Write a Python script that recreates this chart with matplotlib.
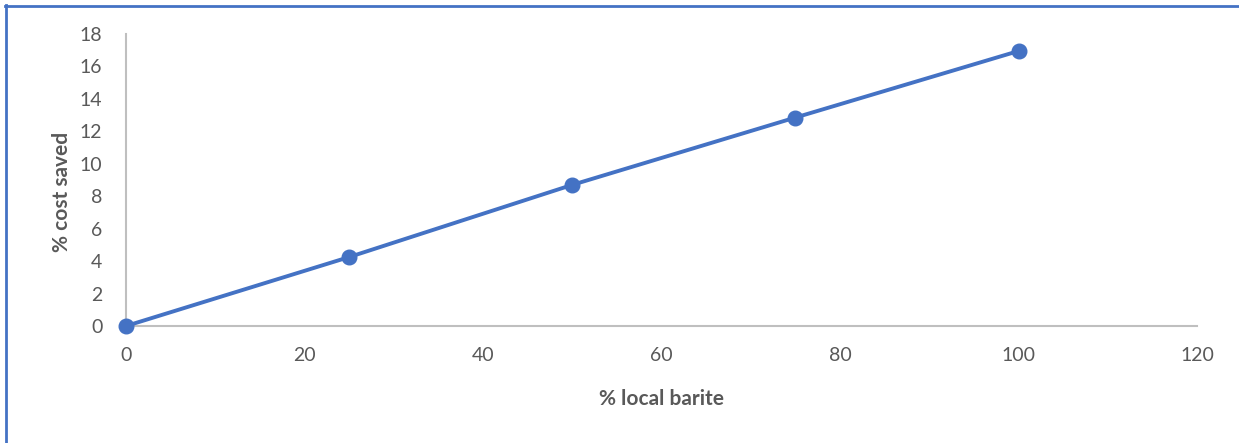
import matplotlib
matplotlib.use("Agg")
import matplotlib.pyplot as plt
from matplotlib.lines import Line2D

# Share of local barite in the mix vs. resulting cost saving
local_barite = [0, 25, 50, 75, 100]
cost_saved = [0, 4.25, 8.7, 12.85, 16.95]
x_ticks = [0, 20, 40, 60, 80, 100, 120]
y_ticks = [0, 2, 4, 6, 8, 10, 12, 14, 16, 18]

plt.rcParams['font.family'] = ['Lato', 'DejaVu Sans']

W, H = 1239, 443
fig = plt.figure(figsize=(W / 100, H / 100), dpi=100)
ax = fig.add_axes([126 / W, 1 - 326 / H, (1197 - 126) / W, (326 - 34) / H])

blue = '#4472C4'
ax.plot(local_barite, cost_saved, color=blue, linewidth=2.8, marker='o',
        markersize=10.5, markerfacecolor=blue, markeredgecolor=blue,
        clip_on=False, zorder=5)

ax.set_xlim(0, 120)
ax.set_ylim(0, 18)
ax.set_xticks(x_ticks)
ax.set_yticks(y_ticks)

for side in ('top', 'right'):
    ax.spines[side].set_visible(False)
for side in ('left', 'bottom'):
    ax.spines[side].set_color('#BFBFBF')
    ax.spines[side].set_linewidth(1.5)

ax.tick_params(axis='both', length=0, labelsize=14, colors='#595959')
ax.tick_params(axis='x', pad=15)
ax.tick_params(axis='y', pad=17)

ax.set_xlabel('% local barite', fontsize=15, fontweight='bold',
              color='#595959', labelpad=18)
ax.set_ylabel('% cost saved', fontsize=15, fontweight='bold',
              color='#595959', va='center')
ax.yaxis.set_label_coords(-0.06, 0.46)

# Chart frame: left and top edges
fig.add_artist(Line2D([6 / W, 6 / W], [0, 1 - 5 / H], transform=fig.transFigure,
                      color='#4472C4', linewidth=2))
fig.add_artist(Line2D([5 / W, 1], [1 - 6 / H, 1 - 6 / H], transform=fig.transFigure,
                      color='#4472C4', linewidth=2))

fig.savefig('out.png', dpi=100)
